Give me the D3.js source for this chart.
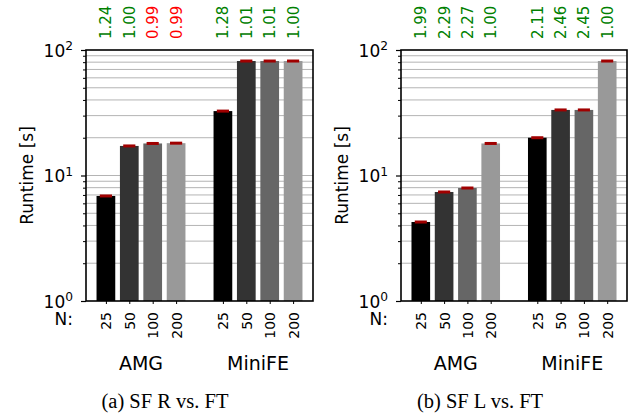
<!DOCTYPE html>
<html>
<head>
<meta charset="utf-8">
<script src="https://cdn.jsdelivr.net/npm/d3@7"></script>
<style>
  body { margin: 0; background: #fff; }
  text { font-family: "DejaVu Sans", sans-serif; }
</style>
</head>
<body>
<script>
// Data
const groups = ["AMG", "MiniFE"];
const sizes = ["25", "50", "100", "200"];
const amgR = [6.87, 17.2, 18.0, 18.1];
const minifeR = [32.6, 81.7, 81.7, 81.7];
const amgL = [4.26, 7.39, 7.95, 18.0];
const minifeL = [20.0, 33.3, 33.3, 81.7];
const speedupR = [1.24, 1.00, 0.99, 0.99, 1.28, 1.01, 1.01, 1.00];
const speedupL = [1.99, 2.29, 2.27, 1.00, 2.11, 2.46, 2.45, 1.00];
const captions = ["(a) SF R vs. FT", "(b) SF L vs. FT"];
const barColors = ["#000000", "#333333", "#666666", "#999999"];

const W = 634, H = 416;
const plotTop = 50, plotBottom = 301;

const svg = d3.select("body").append("svg")
  .attr("width", W)
  .attr("height", H);

function panel(left, right, amg, minife, speedup, caption) {
  const g = svg.append("g");
  const x = d3.scaleLinear().domain([-0.85, 8.85]).range([left, right]);
  const y = d3.scaleLog().domain([1, 100]).range([plotBottom, plotTop]);

  const bars = [];
  [amg, minife].forEach((vals, gi) => vals.forEach((v, i) => {
    bars.push({ gi, i, pos: gi * 5 + i, v, s: speedup[gi * 4 + i] });
  }));

  // grid lines, major and minor
  const minor = d3.range(2, 10).flatMap(d => [d, d * 10]);
  g.selectAll("line.grid")
    .data(minor.concat([10]))
    .enter().append("line")
    .attr("x1", left).attr("x2", right)
    .attr("y1", d => y(d)).attr("y2", d => y(d))
    .attr("stroke", "#b4b4b4")
    .attr("stroke-width", 1);

  g.selectAll("rect.bar")
    .data(bars)
    .enter().append("rect")
    .attr("x", d => x(d.pos - 0.4))
    .attr("width", x(0.4) - x(-0.4))
    .attr("y", d => y(d.v))
    .attr("height", d => plotBottom - y(d.v))
    .attr("fill", d => barColors[d.i]);

  // error marks
  g.selectAll("line.err")
    .data(bars)
    .enter().append("line")
    .attr("x1", d => x(d.pos - 0.26))
    .attr("x2", d => x(d.pos + 0.26))
    .attr("y1", d => y(d.v)).attr("y2", d => y(d.v))
    .attr("stroke", "#a00000")
    .attr("stroke-width", 3);

  // y axis, major ticks with labels
  const yAxis = g.append("g")
    .attr("transform", `translate(${left},0)`)
    .call(d3.axisLeft(y).tickValues([1, 10, 100]).tickSize(5).tickPadding(8).tickFormat(""));
  yAxis.select(".domain").remove();
  yAxis.selectAll(".tick line").attr("stroke", "#000").attr("stroke-width", 1.2);
  yAxis.selectAll(".tick text")
    .attr("fill", "#000")
    .attr("font-size", 17)
    .attr("dy", "0.38em")
    .each(function (d) {
      const t = d3.select(this);
      t.append("tspan").text("10");
      t.append("tspan").attr("dy", "-0.55em").attr("font-size", "0.72em").text(Math.round(Math.log10(d)));
    });

  // minor ticks
  const yMinor = g.append("g")
    .attr("transform", `translate(${left},0)`)
    .call(d3.axisLeft(y).tickValues(minor).tickSize(3).tickFormat(""));
  yMinor.select(".domain").remove();
  yMinor.selectAll(".tick line").attr("stroke", "#000").attr("stroke-width", 1);

  // x axis
  const xAxis = g.append("g")
    .attr("transform", `translate(0,${plotBottom})`)
    .call(d3.axisBottom(x).tickValues(bars.map(d => d.pos)).tickSize(3).tickFormat(p => sizes[p % 5]));
  xAxis.select(".domain").remove();
  xAxis.selectAll(".tick line").attr("stroke", "#000");
  xAxis.selectAll(".tick text")
    .attr("fill", "#000")
    .attr("font-size", 14)
    .attr("transform", "rotate(-90)")
    .attr("x", -11)
    .attr("y", 0)
    .attr("dy", "0.36em")
    .attr("text-anchor", "end");

  // frame
  g.append("rect")
    .attr("x", left).attr("y", plotTop)
    .attr("width", right - left).attr("height", plotBottom - plotTop)
    .attr("fill", "none")
    .attr("stroke", "#000")
    .attr("stroke-width", 1.6);

  // speedup numbers above bars
  g.selectAll("text.speed")
    .data(bars)
    .enter().append("text")
    .attr("transform", d => `translate(${x(d.pos)},39) rotate(-90)`)
    .attr("dy", "0.36em")
    .attr("font-size", 15)
    .attr("fill", d => d.s < 1 ? "#ff0000" : "#008000")
    .text(d => d3.format(".2f")(d.s));

  g.append("text")
    .attr("transform", `translate(${left - 53},${(plotTop + plotBottom) / 2}) rotate(-90)`)
    .attr("text-anchor", "middle")
    .attr("font-size", 17)
    .text("Runtime [s]");

  g.append("text")
    .attr("x", left - 13).attr("y", 325)
    .attr("text-anchor", "end")
    .attr("font-size", 17)
    .text("N:");

  g.selectAll("text.group")
    .data(groups)
    .enter().append("text")
    .attr("x", (d, i) => x(i * 5 + 1.5))
    .attr("y", 370)
    .attr("text-anchor", "middle")
    .attr("font-size", 19)
    .text(d => d);

  g.append("text")
    .attr("x", left + 79).attr("y", 408)
    .attr("text-anchor", "middle")
    .style("font-family", "'Liberation Serif', 'Times New Roman', serif")
    .style("font-size", "20.5px")
    .text(caption);
}

panel(86, 313, amgR, minifeR, speedupR, captions[0]);
panel(401, 627, amgL, minifeL, speedupL, captions[1]);
</script>
</body>
</html>
